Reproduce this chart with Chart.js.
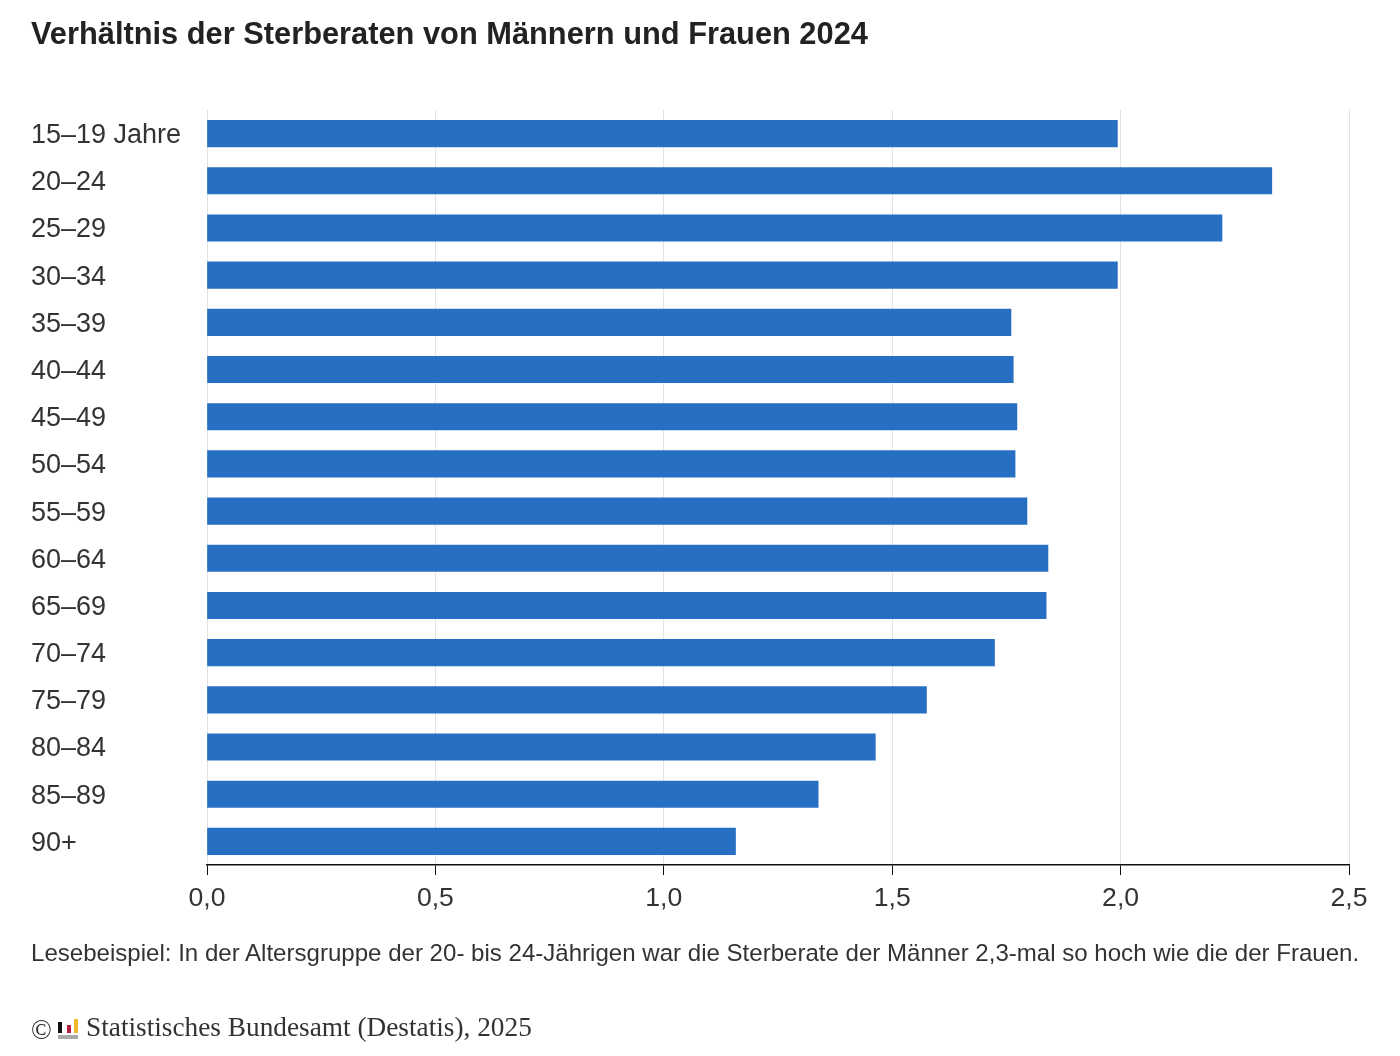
<!DOCTYPE html>
<html><head><meta charset="utf-8">
<script src="https://cdn.jsdelivr.net/npm/chart.js@4"></script>
<style>
html,body{margin:0;padding:0;background:#fff;width:1400px;height:1056px;overflow:hidden}
#c{position:absolute;left:0;top:0}
.t{position:absolute;white-space:nowrap;color:#222}
.b{position:absolute}
</style></head><body>
<canvas id="c" width="1400" height="1056" style="width:1400px;height:1056px"></canvas>
<div class="t" style="left:31px;top:16px;font:bold 30.8px 'Liberation Sans'">Verhältnis der Sterberaten von Männern und Frauen 2024</div>
<div class="t" style="left:31px;top:939px;font:24.07px 'Liberation Sans';color:#333">Lesebeispiel: In der Altersgruppe der 20- bis 24-Jährigen war die Sterberate der Männer 2,3-mal so hoch wie die der Frauen.</div>
<div class="t" style="left:31px;top:1015px;font:27.3px 'Liberation Serif';color:#333">©</div>
<div class="b" style="left:58px;top:1022px;width:3.5px;height:11px;background:#111"></div>
<div class="b" style="left:67px;top:1025px;width:3.5px;height:8px;background:#b3203a"></div>
<div class="b" style="left:74px;top:1019px;width:4px;height:14px;background:#f0b92d"></div>
<div class="b" style="left:58px;top:1035px;width:20px;height:4px;background:#aaa"></div>
<div class="t" style="left:86px;top:1012px;font:27.3px 'Liberation Serif';color:#333">Statistisches Bundesamt (Destatis), 2025</div>
<script>
const categories=["15–19 Jahre","20–24","25–29","30–34","35–39","40–44","45–49","50–54","55–59","60–64","65–69","70–74","75–79","80–84","85–89","90+"];
const ratios=[1.993,2.331,2.222,1.993,1.76,1.765,1.773,1.769,1.795,1.841,1.837,1.724,1.575,1.463,1.338,1.157];
const xTicks=[0,0.5,1,1.5,2,2.5];
new Chart(document.getElementById('c'),{
 type:'bar',
 data:{labels:categories,datasets:[{data:ratios,backgroundColor:'#276FC3',borderWidth:0,barThickness:26.5}]},
 options:{indexAxis:'y',responsive:false,animation:false,
  layout:{padding:{left:31,top:110,right:51,bottom:0}},
  plugins:{legend:{display:false},tooltip:{enabled:false}},
  scales:{
   x:{position:'bottom',min:0,max:2.5,afterBuildTicks(a){a.ticks=xTicks.map(v=>({value:v}))},
      afterFit(a){a.height=191},
      grid:{color:'#e3e3e3',lineWidth:1,drawTicks:true,tickColor:'#111',tickLength:10},
      border:{color:'#111',width:1.5},
      ticks:{color:'#333',font:{family:'Liberation Sans',size:26.6},padding:8,maxRotation:0,
        callback:v=>v.toFixed(1).replace('.',',')}},
   y:{afterFit(a){a.width=176},
      grid:{display:false},border:{display:false},
      ticks:{color:'#333',font:{family:'Liberation Sans',size:27},autoSkip:false,crossAlign:'far',padding:0,labelOffset:2}}
  }
 }
});
</script>
</body></html>
